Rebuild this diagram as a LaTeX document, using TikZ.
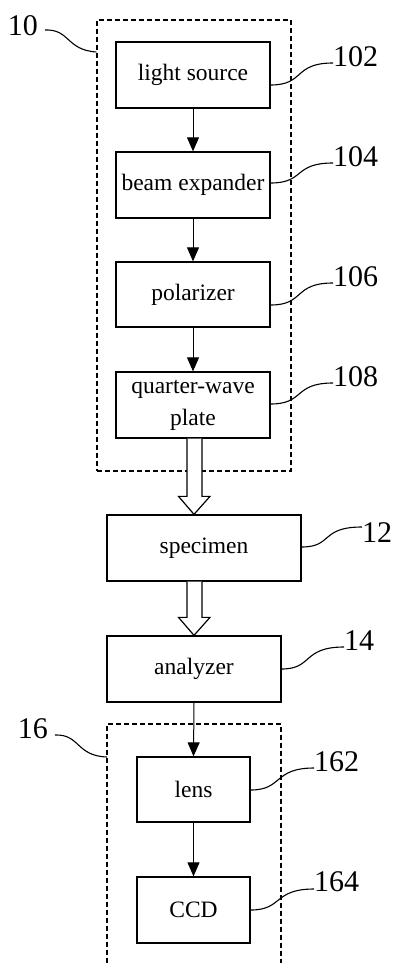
\documentclass[tikz,border=0pt]{standalone}
\usepackage{fontspec}
\setmainfont{Liberation Serif}
\usetikzlibrary{arrows.meta,calc}

\newcommand{\boxfont}{\fontsize{23.5}{32}\selectfont}
\newcommand{\numfont}{\fontsize{30}{34}\selectfont}

\tikzset{
  blk/.style={draw, line width=1.3pt, inner sep=0pt, align=center, font=\boxfont,
              minimum width=154pt, minimum height=66pt},
  grp/.style={draw, line width=1.2pt, dash pattern=on 5pt off 3pt},
  flow/.style={line width=1pt, -{Triangle[width=12pt,length=14pt]}},
  hol/.style={line width=1.2pt, fill=white, line join=miter},
  lead/.style={line width=1.1pt},
  num/.style={inner sep=0pt, font=\numfont},
}

\begin{document}
\begin{tikzpicture}[x=1pt, y=-1pt]
  \useasboundingbox (0,0) rectangle (393,963);

  % illumination unit 10
  \node[grp, minimum width=194pt, minimum height=451pt, inner sep=0pt] (g1) at (194,245.5) {};

  \node[blk] (ls)  at (193,75)    {light source};
  \node[blk] (be)  at (193,185)   {beam expander};
  \node[blk, minimum height=65pt] (pol) at (193,294.5) {polarizer};
  \node[blk] (qw)  at (193,405)   {quarter-wave\\plate};

  \node[blk, minimum width=194pt] (spec) at (204,548) {specimen};
  \node[blk, minimum width=174pt] (ana)  at (194,669) {analyzer};

  % imaging unit 16 (frame open at the bottom)
  \coordinate (g2a) at (107,963);
  \coordinate (g2b) at (107,724);
  \coordinate (g2c) at (281,724);
  \coordinate (g2d) at (281,963);
  \draw[grp] (g2a) -- (g2b) -- (g2c) -- (g2d);

  \node[blk, minimum width=113pt, minimum height=65pt] (lens) at (193.5,789.5) {lens};
  \node[blk, minimum width=113pt] (ccd) at (193.5,910) {CCD};

  % thin arrows
  \draw[flow] (ls.south) -- (be.north);
  \draw[flow] (be.south) -- (pol.north);
  \draw[flow] (pol.south) -- (qw.north);
  \draw[flow] (ana.south) -- (lens.north);
  \draw[flow] (lens.south) -- (ccd.north);

  % hollow arrows
  \draw[hol] let \p1=($(qw.south)+(1.5,0)$), \p2=(qw.south |- spec.north) in
    (\x1-7.5pt,\y1) -- (\x1-7.5pt,\y2+18pt) -- (\x1-16pt,\y2+18pt) -- (\x1-0.5pt,\y2)
    -- (\x1+15.5pt,\y2+18pt) -- (\x1+7.5pt,\y2+18pt) -- (\x1+7.5pt,\y1);
  \draw[hol] let \p1=($(qw.south |- spec.south)+(1.5,0)$), \p2=(ana.north) in
    (\x1-7.5pt,\y1) -- (\x1-7.5pt,\y2+18pt) -- (\x1-16pt,\y2+18pt) -- (\x1-0.5pt,\y2)
    -- (\x1+15.5pt,\y2+18pt) -- (\x1+7.5pt,\y2+18pt) -- (\x1+7.5pt,\y1);

  % reference numerals
  \node[num, anchor=east] (n10)  at (38,26)    {10};
  \node[num, anchor=west] (n102) at (333,56.5) {102};
  \node[num, anchor=west] (n104) at (333,157)  {104};
  \node[num, anchor=west] (n106) at (333,277)  {106};
  \node[num, anchor=west] (n108) at (333,377)  {108};
  \node[num, anchor=west] (n12)  at (362,532.5){12};
  \node[num, anchor=west] (n14)  at (344,641)  {14};
  \node[num, anchor=east] (n16)  at (48,729)   {16};
  \node[num, anchor=west] (n162) at (314,762)  {162};
  \node[num, anchor=west] (n164) at (314,882)  {164};

  % leader lines
  \draw[lead] (45,30) .. controls (70,29) and (66,50) .. (g1.west |- 0,52);
  \draw[lead] (55,735) .. controls (80,734) and (76,756) .. (g2b |- 0,757);
  \draw[lead] (ls.east |- 0,85) .. controls (305,85) and (293,63) .. (n102.west |- 0,63);
  \draw[lead] (be.east |- 0,183) .. controls (305,183) and (293,163) .. (n104.west |- 0,163);
  \draw[lead] (pol.east |- 0,305) .. controls (305,305) and (293,283) .. (n106.west |- 0,283);
  \draw[lead] (qw.east |- 0,404) .. controls (305,404) and (293,383) .. (n108.west |- 0,383);
  \draw[lead] (spec.east |- 0,547) .. controls (333,547) and (320,527) .. (n12.west |- 0,527);
  \draw[lead] (ana.east |- 0,669) .. controls (313,669) and (302,647) .. (n14.west |- 0,647);
  \draw[lead] (lens.east |- 0,790) .. controls (283,790) and (273,768) .. (n162.west |- 0,768);
  \draw[lead] (ccd.east |- 0,910) .. controls (283,910) and (273,889) .. (n164.west |- 0,889);
\end{tikzpicture}
\end{document}
